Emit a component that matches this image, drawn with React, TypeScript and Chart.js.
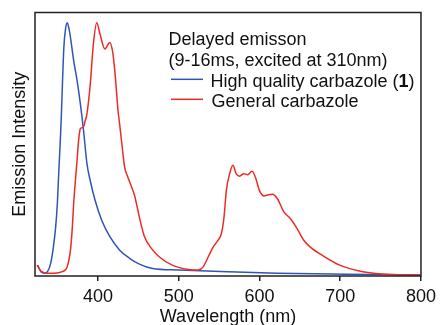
import React, { useEffect, useRef } from "react";
import { Chart, registerables } from "chart.js";

Chart.register(...registerables);

const FONT = '"Liberation Sans", Arial, Helvetica, sans-serif';

// High quality carbazole (1)
const blueWavelength = [325.3, 329.3, 334.2, 337.5, 341.5, 344.8, 347.6, 349.7, 351.6, 353.7, 354.6, 356.1, 357.7, 359.8, 361.9, 363.8, 365.9, 369.9, 374.1, 378.1, 382.1, 386.3, 390.3, 396.4, 404.6, 414.7, 426.9, 439.1, 451.3, 467.5, 500, 561, 622, 707, 800];
const blueIntensity = [0.043, 0.017, 0.011, 0.017, 0.051, 0.115, 0.194, 0.287, 0.42, 0.56, 0.63, 0.77, 0.9, 0.975, 1.0, 0.98, 0.942, 0.85, 0.772, 0.681, 0.575, 0.444, 0.378, 0.299, 0.22, 0.155, 0.102, 0.07, 0.047, 0.03, 0.024, 0.017, 0.011, 0.007, 0.004];

// General carbazole
const redWavelength = [324.4, 329.3, 337.5, 345.5, 355.8, 361.9, 365.9, 368, 369.9, 374.1, 376, 378.1, 382.1, 384.2, 386, 390.3, 394.3, 398.5, 402.5, 408.6, 414.7, 418.3, 420.8, 424.8, 427.7, 430.9, 433, 437, 440.3, 445.2, 451.3, 457.4, 465.9, 475.7, 491.9, 512.2, 524.4, 530.5, 536.6, 542.7, 548.8, 552.9, 556.1, 559, 563.1, 567.1, 571.1, 575.3, 580.5, 585.4, 590.7, 595.5, 599.7, 605.8, 611, 615.9, 622, 630.2, 638.2, 646.4, 654.6, 662.6, 679, 699.2, 723.6, 752.1, 798.8];
const redIntensity = [0.043, 0.02, 0.011, 0.011, 0.017, 0.037, 0.102, 0.181, 0.287, 0.457, 0.535, 0.581, 0.588, 0.614, 0.634, 0.752, 0.916, 1.0, 0.955, 0.896, 0.922, 0.882, 0.811, 0.654, 0.575, 0.483, 0.43, 0.39, 0.362, 0.319, 0.232, 0.157, 0.11, 0.076, 0.043, 0.026, 0.024, 0.037, 0.076, 0.115, 0.142, 0.168, 0.233, 0.339, 0.404, 0.437, 0.404, 0.394, 0.404, 0.4, 0.413, 0.385, 0.339, 0.316, 0.321, 0.323, 0.306, 0.253, 0.227, 0.188, 0.142, 0.115, 0.079, 0.043, 0.02, 0.008, 0.004];

const xTicks = [400, 500, 600, 700, 800];
const legendHeader = ["Delayed emisson", "(9-16ms, excited at 310nm)"];
const blueLabelParts = ["High quality carbazole (", "1", ")"];
const redLabel = "General carbazole";
const BLUE = "#2f55b8";
const RED = "#ee2a24";

const toPoints = (xs: number[], ys: number[]) => xs.map((x, i) => ({ x, y: ys[i] }));

const framePlugin = {
  id: "frame",
  afterDraw(chart: any) {
    const { ctx, chartArea: a } = chart;
    ctx.save();
    ctx.strokeStyle = "#222";
    ctx.lineWidth = 1.5;
    ctx.strokeRect(a.left, a.top, a.right - a.left, a.bottom - a.top);
    ctx.restore();
  },
};

const legendPlugin = {
  id: "customLegend",
  afterDraw(chart: any) {
    const { ctx, chartArea: a } = chart;
    const x0 = a.left + 133.5;
    ctx.save();
    ctx.fillStyle = "#111";
    ctx.textBaseline = "alphabetic";
    ctx.textAlign = "left";
    ctx.font = `18px ${FONT}`;
    ctx.fillText(legendHeader[0], x0, a.top + 32.5);
    ctx.fillText(legendHeader[1], x0, a.top + 53.5);
    // blue entry
    ctx.lineWidth = 1.5;
    ctx.strokeStyle = BLUE;
    ctx.beginPath();
    ctx.moveTo(x0 + 2.5, a.top + 66.8);
    ctx.lineTo(x0 + 34.5, a.top + 66.8);
    ctx.stroke();
    let tx = x0 + 42;
    ctx.font = `18px ${FONT}`;
    ctx.fillText(blueLabelParts[0], tx, a.top + 74.5);
    tx += ctx.measureText(blueLabelParts[0]).width;
    ctx.font = `bold 18px ${FONT}`;
    ctx.fillText(blueLabelParts[1], tx, a.top + 74.5);
    tx += ctx.measureText(blueLabelParts[1]).width;
    ctx.font = `18px ${FONT}`;
    ctx.fillText(blueLabelParts[2], tx, a.top + 74.5);
    // red entry
    ctx.strokeStyle = RED;
    ctx.beginPath();
    ctx.moveTo(x0 + 2.5, a.top + 86.8);
    ctx.lineTo(x0 + 34.5, a.top + 86.8);
    ctx.stroke();
    ctx.fillText(redLabel, x0 + 43, a.top + 94);
    ctx.restore();
  },
};

export default function App() {
  const ref = useRef<HTMLCanvasElement | null>(null);
  useEffect(() => {
    if (!ref.current) return;
    const chart = new Chart(ref.current, {
      type: "line",
      data: {
        datasets: [
          {
            label: "General carbazole",
            data: toPoints(redWavelength, redIntensity),
            borderColor: RED,
            borderWidth: 1.5,
            pointRadius: 0,
            cubicInterpolationMode: "monotone",
            fill: false,
            order: 0,
          },
          {
            label: "High quality carbazole (1)",
            data: toPoints(blueWavelength, blueIntensity),
            borderColor: BLUE,
            borderWidth: 1.5,
            pointRadius: 0,
            cubicInterpolationMode: "monotone",
            fill: false,
            order: 1,
          },
        ],
      },
      options: {
        animation: false,
        responsive: false,
        layout: { padding: { top: 12.5, right: 14.5, left: 0, bottom: 0 } },
        plugins: { legend: { display: false }, tooltip: { enabled: false } },
        scales: {
          x: {
            type: "linear",
            min: 322,
            max: 800,
            afterBuildTicks: (s: any) => {
              s.ticks = xTicks.map((v) => ({ value: v }));
            },
            ticks: { color: "#111", font: { size: 18, family: FONT }, padding: 5, maxRotation: 0, autoSkip: false },
            grid: { display: true, drawOnChartArea: false, drawTicks: true, tickLength: 5, color: "#222", lineWidth: 1.5 },
            border: { display: false },
            title: {
              display: true,
              text: "Wavelength (nm)",
              color: "#111",
              font: { size: 18, family: FONT },
              padding: { top: 0, bottom: -2.5 },
            },
            afterFit: (s: any) => {
              s.height = 49;
            },
          },
          y: {
            min: 0,
            max: 1.04,
            ticks: { display: false },
            grid: { display: false, drawTicks: false },
            border: { display: false },
            title: {
              display: true,
              text: "Emission Intensity",
              color: "#111",
              font: { size: 18, family: FONT },
              padding: { top: 9, bottom: 0 },
            },
            afterFit: (s: any) => {
              s.width = 35;
            },
          },
        },
      },
      plugins: [framePlugin, legendPlugin],
    } as any);
    return () => chart.destroy();
  }, []);
  return (
    <div style={{ position: "absolute", left: 0, top: 0, width: 441, height: 325, background: "#fff" }}>
      <canvas ref={ref} width={441} height={325} />
    </div>
  );
}
